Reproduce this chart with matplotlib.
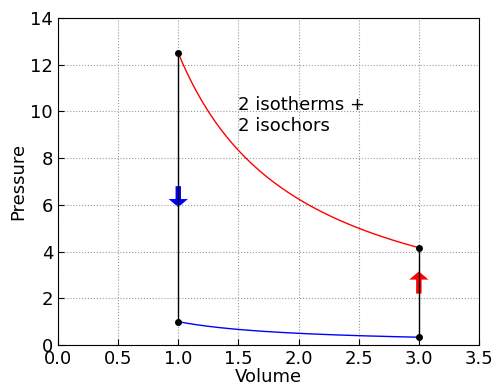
import numpy as np
import matplotlib
matplotlib.use('Agg')
import matplotlib.pyplot as plt

V1, V2 = 1.0, 3.0
P_hot = 12.5   # P*V on the hot isotherm
P_cold = 1.0   # P*V on the cold isotherm
corners_V = [V1, V1, V2, V2]
corners_P = [P_hot / V1, P_cold / V1, P_cold / V2, P_hot / V2]

V = np.linspace(V1, V2, 200)

fig = plt.figure(figsize=(4.93, 3.88), dpi=100)
ax = fig.add_axes([0.1176, 0.1108, 0.854, 0.8428])

ax.plot(V, P_hot / V, color='red', lw=1)
ax.plot(V, P_cold / V, color='blue', lw=1)
ax.plot([V1, V1], [P_cold / V1, P_hot / V1], color='black', lw=1)
ax.plot([V2, V2], [P_cold / V2, P_hot / V2], color='black', lw=1)
ax.plot(corners_V, corners_P, 'o', color='black', ms=4, ls='none')

# direction arrows
ax.arrow(V1, 6.8, 0, -0.55, width=0.045, head_width=0.16, head_length=0.35,
         color='blue', lw=0)
ax.arrow(V2, 2.2, 0, 0.6, width=0.045, head_width=0.16, head_length=0.35,
         color='red', lw=0)

ax.text(1.5, 9.15, '2 isotherms +\n2 isochors', fontsize=13)

ax.set_xlim(0, 3.5)
ax.set_ylim(0, 14)
ax.set_xticks(np.arange(0, 3.51, 0.5))
ax.set_yticks(np.arange(0, 14.1, 2))
ax.tick_params(direction='in', labelsize=13, length=4)
ax.grid(True, ls=':', color='0.6', lw=0.8)
ax.set_xlabel('Volume', fontsize=13, labelpad=0)
ax.set_ylabel('Pressure', fontsize=13, labelpad=2)

plt.savefig('out.png')
